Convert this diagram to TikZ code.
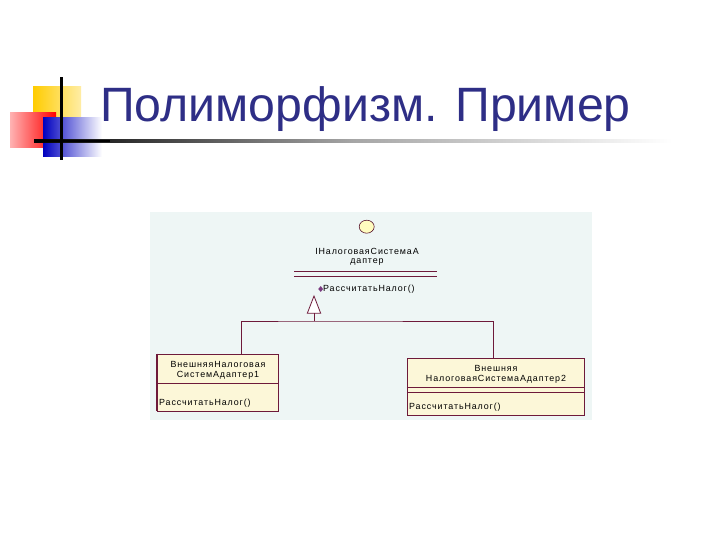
\documentclass[tikz,border=0pt]{standalone}
\usepackage{fontspec}
\setmainfont{Liberation Sans}
\newfontfamily\umlfont[LetterSpace=10]{Liberation Sans}
\usetikzlibrary{shapes.geometric}
\definecolor{titleblue}{HTML}{2E2E86}
\definecolor{panelbg}{HTML}{EEF6F5}
\definecolor{boxfill}{HTML}{FCF7D8}
\definecolor{umlline}{HTML}{6E1A3A}
\definecolor{diam}{HTML}{7A3A80}
\definecolor{gold}{HTML}{FFCC00}
\tikzset{
  umltext/.style={font=\umlfont\fontsize{8.9}{10}\selectfont, inner sep=0pt, text=black},
  classbox/.style={draw=umlline, fill=boxfill, line width=0.75pt, inner sep=0pt},
  link/.style={draw=umlline, line width=0.8pt},
}
\begin{document}
\begin{tikzpicture}[x=1pt,y=-1pt]
\useasboundingbox (0,0) rectangle (720,540);
\fill[white] (0,0) rectangle (720,540);
% decoration
\shade[left color=gold, right color=gold!35] (33,87) rectangle (81,120);
\shade[left color=red!30, right color=red] (10,113) rectangle (56,148);
\shade[left color=blue!75!black, right color=white] (43,118) rectangle (102,157);
\shade[left color=black, right color=white, middle color=gray!70] (34,140) rectangle (672,142.5);
\fill[black] (34,140) rectangle (110,142.5);
\fill[black] (60,77) rectangle (62.5,160);
% title
\node[anchor=base west, inner sep=0pt, text=titleblue, font=\fontsize{48.2}{50}\selectfont] (title) at (100,122) {Полиморфизм. Пример};
% panel
\fill[panelbg] (150,212) rectangle (592,420);
% interface
\node[ellipse, draw=umlline!80!black, fill=yellow!25, minimum width=15pt, minimum height=13pt, inner sep=0pt, line width=0.6pt] (iface) at (366.7,226.7) {};
\node[umltext] (iname1) at (367,251) {IНалоговаяСистемаА};
\node[umltext] (iname2) at (367,262.5) {даптер};
\draw[link] (294,271.3) -- (437,271.3);
\draw[link] (294,276) -- (437,276);
\node[diamond, fill=diam, minimum width=5pt, minimum height=6pt, inner sep=0pt] (dm) at (320.7,289) {};
\node[umltext, anchor=west] (iop) at (323,289.5) {РассчитатьНалог()};
% inheritance triangle
\coordinate (apex) at (314,296);
\coordinate (tbase) at (314,313.3);
\coordinate (junc) at (314,321);
\draw[link, fill=white] (apex) -- (320.7,313.3) -- (307.3,313.3) -- cycle;
% class 1
\node[classbox, minimum width=121pt, minimum height=57pt] (c1) at (217.8,382.5) {};
\draw[link] (c1.west |- 0,383) -- (c1.east |- 0,383);
\draw[umlline, line width=1.2pt] (c1.north west) -- (c1.south west);
\node[umltext] (c1a) at (218,364.5) {ВнешняяНалоговая};
\node[umltext] (c1b) at (218,375.5) {СистемАдаптер1};
\node[umltext, anchor=west] (c1op) at (159,403.5) {РассчитатьНалог()};
% class 2
\node[classbox, minimum width=177pt, minimum height=56.7pt] (c2) at (495.8,386.7) {};
\draw[link] (c2.west |- 0,387.7) -- (c2.east |- 0,387.7);
\draw[link] (c2.west |- 0,392.7) -- (c2.east |- 0,392.7);
\node[umltext] (c2a) at (496,368) {Внешняя};
\node[umltext] (c2b) at (496,379.5) {НалоговаяСистемаАдаптер2};
\node[umltext, anchor=west] (c2op) at (409,407.5) {РассчитатьНалог()};
% connectors
\draw[link] (tbase) -- (junc);
\draw[link] (c1.north -| 241,0) |- (junc) -| (c2.north -| 493.3,0);
\end{tikzpicture}
\end{document}
